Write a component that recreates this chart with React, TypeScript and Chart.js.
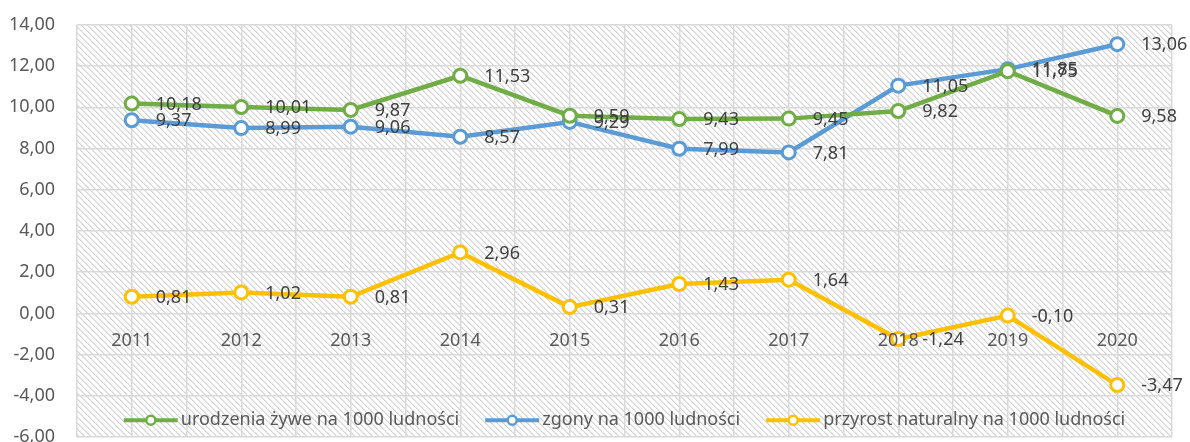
import { useEffect, useRef } from 'react';
import { Chart, registerables } from 'chart.js';

Chart.register(...registerables);

const years = ['2011', '2012', '2013', '2014', '2015', '2016', '2017', '2018', '2019', '2020'];
const births = [10.18, 10.01, 9.87, 11.53, 9.59, 9.43, 9.45, 9.82, 11.75, 9.58];
const deaths = [9.37, 8.99, 9.06, 8.57, 9.29, 7.99, 7.81, 11.05, 11.85, 13.06];
const growth = [0.81, 1.02, 0.81, 2.96, 0.31, 1.43, 1.64, -1.24, -0.1, -3.47];
const seriesLabels = [
  'urodzenia żywe na 1000 ludności',
  'zgony na 1000 ludności',
  'przyrost naturalny na 1000 ludności',
];
const seriesColors = ['#70AD47', '#5B9BD5', '#FFC000'];
const yMin = -6;
const yMax = 14;
const yStep = 2;

const FONT_FAMILY = '"Noto Sans", sans-serif';
const FONT_SIZE = 18;
const fmt = (v: number) => v.toFixed(2).replace('.', ',');

function makePattern(ctx: CanvasRenderingContext2D) {
  const c = document.createElement('canvas');
  const n = 6;
  c.width = n;
  c.height = n;
  const g = c.getContext('2d')!;
  g.fillStyle = '#ffffff';
  g.fillRect(0, 0, n, n);
  for (let y = 0; y < n; y++) {
    for (let x = 0; x < n; x++) {
      const d = (((x - y) % n) + n) % n;
      if (d === 0) {
        g.fillStyle = '#d4d4d4';
        g.fillRect(x, y, 1, 1);
      } else if (d === 1) {
        g.fillStyle = '#e8e8e8';
        g.fillRect(x, y, 1, 1);
      }
    }
  }
  return ctx.createPattern(c, 'repeat')!;
}

const hatchPlugin = {
  id: 'hatch',
  beforeDraw(chart: any) {
    const { ctx, chartArea } = chart;
    ctx.save();
    ctx.fillStyle = makePattern(ctx);
    ctx.fillRect(chartArea.left, chartArea.top, chartArea.right - chartArea.left, chartArea.bottom - chartArea.top);
    ctx.restore();
  },
};

const labelPlugin = {
  id: 'valueLabels',
  afterDatasetsDraw(chart: any) {
    const { ctx } = chart;
    ctx.save();
    ctx.font = `${FONT_SIZE}px ${FONT_FAMILY}`;
    ctx.fillStyle = '#404040';
    ctx.textAlign = 'left';
    ctx.textBaseline = 'middle';
    chart.data.datasets.forEach((ds: any, di: number) => {
      const meta = chart.getDatasetMeta(di);
      meta.data.forEach((pt: any, i: number) => {
        ctx.fillText(fmt(ds.data[i].y), pt.x + 24, pt.y + 1);
      });
    });
    ctx.restore();
  },
};

const legendPlugin = {
  id: 'innerLegend',
  afterDraw(chart: any) {
    const { ctx, chartArea } = chart;
    ctx.save();
    ctx.font = `${FONT_SIZE}px ${FONT_FAMILY}`;
    const lineLen = 54;
    const textGap = 3;
    const itemGap = 26;
    const widths = seriesLabels.map((t) => ctx.measureText(t).width);
    const total = widths.reduce((a, w) => a + lineLen + textGap + w, 0) + itemGap * (seriesLabels.length - 1);
    let x = (chartArea.left + chartArea.right) / 2 - total / 2;
    const y = chartArea.bottom - 17;
    seriesLabels.forEach((t, i) => {
      ctx.strokeStyle = seriesColors[i];
      ctx.lineWidth = 4;
      ctx.beginPath();
      ctx.moveTo(x, y);
      ctx.lineTo(x + lineLen, y);
      ctx.stroke();
      ctx.beginPath();
      ctx.arc(x + lineLen / 2, y, 4.5, 0, Math.PI * 2);
      ctx.fillStyle = '#ffffff';
      ctx.fill();
      ctx.lineWidth = 2.5;
      ctx.stroke();
      ctx.fillStyle = '#595959';
      ctx.textAlign = 'left';
      ctx.textBaseline = 'middle';
      ctx.fillText(t, x + lineLen + textGap, y);
      x += lineLen + textGap + widths[i] + itemGap;
    });
    ctx.restore();
  },
};

export default function App() {
  const ref = useRef<HTMLCanvasElement | null>(null);

  useEffect(() => {
    if (!ref.current) return;
    const series = [births, deaths, growth];
    const chart = new Chart(ref.current, {
      type: 'line',
      data: {
        datasets: series.map((vals, si) => ({
          label: seriesLabels[si],
          data: vals.map((v, i) => ({ x: i + 0.5, y: v })),
          borderColor: seriesColors[si],
          backgroundColor: '#ffffff',
          pointBackgroundColor: '#ffffff',
          pointBorderColor: seriesColors[si],
          pointRadius: 6.5,
          pointBorderWidth: 3,
          borderWidth: 4.5,
          tension: 0,
          fill: false,
        })),
      },
      options: {
        animation: false,
        responsive: false,
        devicePixelRatio: 1,
        events: [],
        layout: { padding: { left: 0, right: 18, top: 16, bottom: 10 } },
        plugins: {
          legend: { display: false },
          tooltip: { enabled: false },
        },
        scales: {
          x: {
            type: 'linear',
            position: { y: 0 } as any,
            min: 0,
            max: 10,
            grid: { color: '#d9d9d9', lineWidth: 1.5, drawTicks: false },
            border: { display: false },
            afterFit: (s: any) => {
              s.height = 0;
            },
            ticks: {
              stepSize: 0.5,
              autoSkip: false,
              maxRotation: 0,
              padding: 17,
              color: '#595959',
              font: { family: FONT_FAMILY, size: FONT_SIZE },
              z: 1,
              callback: (value: any) => {
                const i = Number(value) - 0.5;
                return Number.isInteger(i) && years[i] ? years[i] : '';
              },
            },
          },
          y: {
            min: yMin,
            max: yMax,
            grid: { color: '#d9d9d9', lineWidth: 1.5, drawTicks: false },
            border: { display: false },
            afterFit: (s: any) => {
              s.width = 77;
            },
            ticks: {
              stepSize: yStep,
              padding: 22,
              color: '#595959',
              font: { family: FONT_FAMILY, size: FONT_SIZE },
              callback: (value: any) => fmt(Number(value)),
            },
          },
        },
      },
      plugins: [hatchPlugin, labelPlugin, legendPlugin],
    });
    return () => chart.destroy();
  }, []);

  return (
    <div style={{ position: 'fixed', left: 0, top: -8, width: 1190, height: 478, background: '#ffffff' }}>
      <canvas ref={ref} width={1190} height={478} style={{ display: 'block' }} />
    </div>
  );
}
